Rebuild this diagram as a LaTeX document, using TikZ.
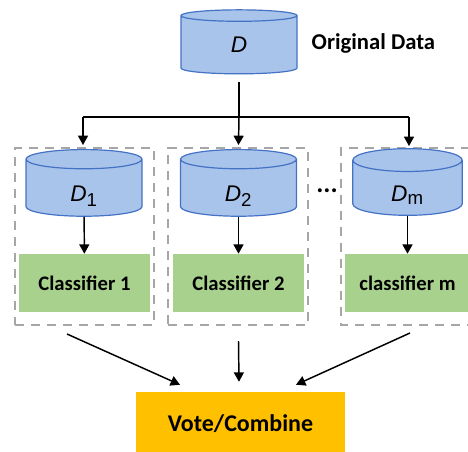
\documentclass[tikz,border=0pt]{standalone}
\usepackage{fontspec}
\setmainfont{Carlito}
\newfontfamily\arialfont{Liberation Sans}
\usetikzlibrary{shapes.geometric,arrows.meta,fit}
\definecolor{dbfill}{HTML}{A9C4EB}
\definecolor{dbline}{HTML}{4472C4}
\definecolor{clsgreen}{HTML}{A9D18E}
\definecolor{votegold}{HTML}{FFC000}
\tikzset{
  db/.style={cylinder, shape border rotate=90, aspect=0.7, draw=dbline, fill=dbfill,
    line width=0.9pt, minimum width=87pt, minimum height=48pt, inner sep=0pt,
    font=\arialfont\fontsize{17}{17}\selectfont},
  subdb/.style={db, minimum height=50pt, text height=20pt, text depth=0pt},
  grp/.style={draw=gray!70, line width=1.5pt, dash pattern=on 7pt off 5pt, inner sep=0pt},
  cls/.style={fill=clsgreen, minimum height=43.5pt, inner sep=0pt, font=\bfseries\fontsize{15.5}{15.5}\selectfont},
  arr/.style={line width=1.1pt, -{Triangle[length=7pt,width=7.5pt]}},
}
\newcommand{\dlabel}[1]{\itshape D\textsubscript{\upshape\fontsize{14}{14}\selectfont #1}}
\begin{document}
\begin{tikzpicture}[x=0.75pt,y=-0.75pt]
\useasboundingbox (0,0) rectangle (468,451);
%data
\node[db] (D) at (239,45) {\itshape D};
\node[font=\bfseries\fontsize{17}{17}\selectfont, anchor=west] (orig) at (307,43) {Original Data};
\coordinate (split) at (239,117);
%groups
\node[grp, fit={(15,148) (154,325)}] (g1) {};
\node[grp, fit={(168,148) (308,325)}] (g2) {};
\draw[grp] (470,148) -| (341,325) -- (470,325);
\coordinate (g3) at (409,148);
%subsets
\node[subdb] (D1) at (84,188) {\dlabel{1}};
\node[subdb] (D2) at (238.5,188) {\dlabel{2}};
\node[subdb, minimum width=82pt] (Dm) at (407.5,188) {\dlabel{m}};
\node[font=\bfseries\fontsize{20}{20}\selectfont] (dots) at (327,191) {...};
%classifiers
\node[cls, minimum width=98pt] (c1) at (84.5,283) {Classifier 1};
\node[cls, minimum width=98pt] (c2) at (238.5,283) {Classifier 2};
\node[cls, minimum width=94pt] (cm) at (407.5,283) {classifier m};
\node[fill=votegold, minimum width=157pt, minimum height=48pt, inner sep=0pt,
  font=\bfseries\fontsize{18}{18}\selectfont] (vote) at (240.5,424) {Vote/Combine};
%arrows
\draw[line width=1.1pt] ([shift={(0,8)}]D.south) -- (split);
\draw[line width=1.1pt] ([shift={(-156,0)}]split) -- ([shift={(170,0)}]split);
\draw[arr] ([shift={(-156,0)}]split) -- ([shift={(-1.5,-2)}]g1.north);
\draw[arr] (split) -- ([shift={(0.5,-2)}]g2.north);
\draw[arr] ([shift={(170,0)}]split) -- ([shift={(0,-2)}]g3);
\draw[arr] (D1) -- (c1);
\draw[arr] (D2) -- (c2);
\draw[arr] (Dm) -- (cm);
\draw[arr] ([shift={(-17.5,8)}]g1.south) -- ([shift={(-60.5,-7)}]vote.north);
\draw[arr] ([shift={(0.5,15)}]g2.south) -- ([shift={(-1.5,-10)}]vote.north);
\draw[arr] ([shift={(69,8)}]341,325) -- ([shift={(55.5,-7)}]vote.north);
\end{tikzpicture}
\end{document}
